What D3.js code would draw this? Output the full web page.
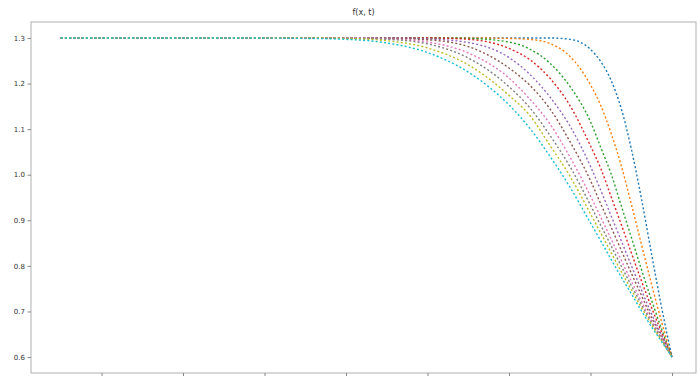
<!DOCTYPE html>
<html>
<head>
<meta charset="utf-8">
<script src="https://cdn.jsdelivr.net/npm/d3@7"></script>
<style>
  html, body { margin: 0; padding: 0; background: #fff; }
  svg { display: block; }
</style>
</head>
<body>
<div id="chart"></div>
<script>
// Shared x grid (position along the domain)
const xs = [-0.5, 0.5, 1.5, 2.5, 3.0, 3.5, 4.0, 4.5, 5.0, 5.25, 5.5, 5.75,
            6.0, 6.125, 6.25, 6.375, 6.5, 6.625, 6.75, 6.875, 7.0];

// f(x, t) profiles, one per time step
const f0 = [1.3, 1.3, 1.3, 1.3, 1.3, 1.3, 1.3, 1.3, 1.3, 1.3, 1.3, 1.297, 1.275, 1.248, 1.208, 1.146, 1.057, 0.947, 0.825, 0.706, 0.600];
const f1 = [1.3, 1.3, 1.3, 1.3, 1.3, 1.3, 1.3, 1.3, 1.299, 1.297, 1.288, 1.259, 1.197, 1.152, 1.092, 1.021, 0.936, 0.847, 0.759, 0.675, 0.600];
const f2 = [1.3, 1.3, 1.3, 1.3, 1.3, 1.3, 1.3, 1.299, 1.291, 1.276, 1.245, 1.193, 1.116, 1.060, 1.003, 0.933, 0.863, 0.792, 0.724, 0.660, 0.600];
const f3 = [1.3, 1.3, 1.3, 1.3, 1.3, 1.3, 1.3, 1.297, 1.277, 1.253, 1.212, 1.151, 1.063, 1.014, 0.953, 0.892, 0.829, 0.767, 0.708, 0.653, 0.600];
const f4 = [1.3, 1.3, 1.3, 1.3, 1.3, 1.3, 1.298, 1.290, 1.257, 1.221, 1.171, 1.106, 1.018, 0.966, 0.911, 0.856, 0.801, 0.747, 0.694, 0.647, 0.600];
const f5 = [1.3, 1.3, 1.3, 1.3, 1.3, 1.299, 1.296, 1.281, 1.234, 1.197, 1.145, 1.072, 0.987, 0.936, 0.886, 0.835, 0.784, 0.735, 0.686, 0.643, 0.600];
const f6 = [1.3, 1.3, 1.3, 1.3, 1.3, 1.298, 1.291, 1.267, 1.212, 1.167, 1.112, 1.038, 0.953, 0.907, 0.860, 0.813, 0.767, 0.722, 0.679, 0.640, 0.600];
const f7 = [1.3, 1.3, 1.3, 1.3, 1.299, 1.297, 1.287, 1.256, 1.193, 1.148, 1.087, 1.017, 0.933, 0.889, 0.845, 0.800, 0.757, 0.715, 0.675, 0.637, 0.600];
const f8 = [1.3, 1.3, 1.3, 1.3, 1.299, 1.294, 1.278, 1.241, 1.174, 1.131, 1.065, 0.996, 0.914, 0.872, 0.830, 0.788, 0.748, 0.708, 0.671, 0.635, 0.600];
const f9 = [1.3, 1.3, 1.3, 1.299, 1.297, 1.289, 1.268, 1.225, 1.153, 1.103, 1.041, 0.972, 0.894, 0.855, 0.815, 0.776, 0.739, 0.701, 0.666, 0.633, 0.600];

const series = [f0, f1, f2, f3, f4, f5, f6, f7, f8, f9];
const colors = ["#1f77b4", "#ff7f0e", "#2ca02c", "#d62728", "#9467bd",
                "#8c564b", "#e377c2", "#7f7f7f", "#bcbd22", "#17becf"];

const yTicks = [0.6, 0.7, 0.8, 0.9, 1.0, 1.1, 1.2, 1.3];
const xTicks = [0, 1, 2, 3, 4, 5, 6, 7];
const title = "f(x, t)";

const W = 698, H = 376;
const margin = { left: 31, right: 2, top: 22, bottom: 3 };

const svg = d3.select("#chart").append("svg")
  .attr("width", W).attr("height", H);

const x = d3.scaleLinear().domain([-0.865, 7.294])
  .range([margin.left, W - margin.right]);
const y = d3.scaleLinear().domain([0.565, 1.335])
  .range([H - margin.bottom, margin.top]);

// frame
svg.append("rect")
  .attr("x", margin.left).attr("y", margin.top)
  .attr("width", W - margin.left - margin.right)
  .attr("height", H - margin.top - margin.bottom)
  .attr("fill", "none").attr("stroke", "#b0b0b0").attr("stroke-width", 1);

// curves, earliest first so the last one sits on top
const line = d3.line()
  .x((d, i) => x(xs[i]))
  .y(d => y(d))
  .curve(d3.curveMonotoneX);

svg.append("g").selectAll("path")
  .data(series)
  .join("path")
  .attr("d", line)
  .attr("fill", "none")
  .attr("stroke", (d, i) => colors[i])
  .attr("stroke-width", 1.4)
  .attr("stroke-dasharray", "2,2.2");

// y axis
const yAxis = d3.axisLeft(y).tickValues(yTicks)
  .tickFormat(d3.format(".1f")).tickSize(3.5).tickPadding(2.5);
const gy = svg.append("g")
  .attr("transform", `translate(${margin.left},0)`)
  .call(yAxis);
gy.select(".domain").remove();
gy.selectAll(".tick line").attr("stroke", "#888");
gy.selectAll(".tick text")
  .attr("font-family", "DejaVu Sans, sans-serif")
  .attr("font-size", 7).attr("fill", "#333");

// x axis (tick marks only)
const xAxis = d3.axisBottom(x).tickValues(xTicks)
  .tickFormat("").tickSize(3.5);
const gx = svg.append("g")
  .attr("transform", `translate(0,${H - margin.bottom})`)
  .call(xAxis);
gx.select(".domain").remove();
gx.selectAll(".tick line").attr("stroke", "#888");

// title
svg.append("text")
  .attr("x", (margin.left + W - margin.right) / 2)
  .attr("y", 15)
  .attr("text-anchor", "middle")
  .attr("font-family", "DejaVu Sans, sans-serif")
  .attr("font-size", 8)
  .attr("fill", "#333")
  .text(title);
</script>
</body>
</html>
